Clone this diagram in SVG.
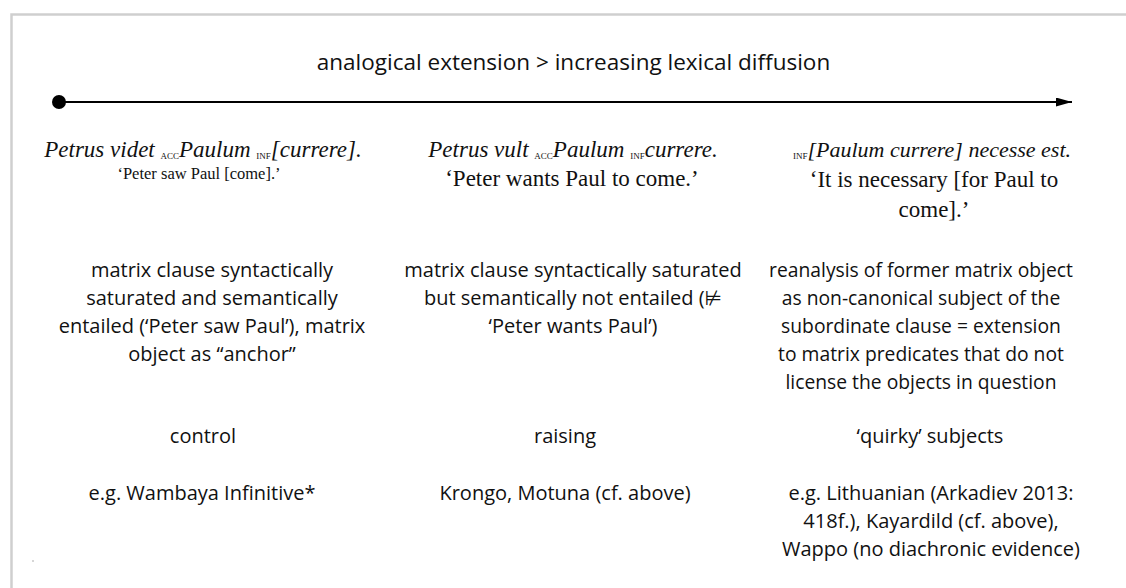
<svg xmlns="http://www.w3.org/2000/svg" width="1126" height="588" viewBox="0 0 1126 588">
<style>
.sans{font-family:"Open Sans","DejaVu Sans",sans-serif;font-size:20px;fill:#111;text-anchor:middle}
.title{font-size:22.5px}
.c3{font-size:19.3px}
.ser{font-family:"Liberation Serif","DejaVu Serif",serif;font-size:23px;fill:#111;text-anchor:middle}
.small{font-size:16.5px}
.it{font-style:italic}
.sc{font-style:normal;font-size:9px}
</style>
<defs>
<marker id="arr" viewBox="0 0 16 9" refX="16" refY="4.5" markerWidth="16" markerHeight="9" markerUnits="userSpaceOnUse" orient="auto">
<path d="M0,0 L16,4.5 L0,9 Z" fill="#000"/>
</marker>
</defs>
<rect width="1126" height="588" fill="#fff"/>
<path d="M11.5,588 V14.5 H1126" fill="none" stroke="#cfcfcf" stroke-width="2.5"/>
<rect x="32" y="560" width="2" height="2" fill="#d6d6d6"/>

<g id="connectors">
<line x1="59" y1="102" x2="1072" y2="102" stroke="#000" stroke-width="2" marker-end="url(#arr)"/>
<circle cx="59" cy="102" r="7" fill="#000"/>
</g>

<g id="title"><text class="sans title" x="573.5" y="70">analogical extension &gt; increasing lexical diffusion</text></g>

<g id="col1-example">
<text class="ser it" x="203" y="157">Petrus videt <tspan class="sc" dy="2">ACC</tspan><tspan dy="-2">Paulum </tspan><tspan class="sc" dy="2">INF</tspan><tspan dy="-2">[currere].</tspan></text>
<text class="ser small" x="199" y="179">‘Peter saw Paul [come].’</text>
</g>
<g id="col2-example">
<text class="ser it" x="573" y="157">Petrus vult <tspan class="sc" dy="2">ACC</tspan><tspan dy="-2">Paulum </tspan><tspan class="sc" dy="2">INF</tspan><tspan dy="-2">currere.</tspan></text>
<text class="ser" x="572" y="186">‘Peter wants Paul to come.’</text>
</g>
<g id="col3-example">
<text class="ser it" x="932" y="157" style="font-size:22px"><tspan class="sc" dy="2">INF</tspan><tspan dy="-2">[Paulum currere] necesse est.</tspan></text>
<text class="ser" x="934" y="187">‘It is necessary [for Paul to</text>
<text class="ser" x="934" y="217">come].’</text>
</g>

<g id="col1-desc">
<text class="sans" x="212" y="277">matrix clause syntactically</text>
<text class="sans" x="212" y="305">saturated and semantically</text>
<text class="sans" x="212" y="333">entailed (‘Peter saw Paul’), matrix</text>
<text class="sans" x="212" y="361">object as “anchor”</text>
</g>
<g id="col2-desc">
<text class="sans" x="573" y="277">matrix clause syntactically saturated</text>
<text class="sans" x="573" y="305">but semantically not entailed (⊭</text>
<text class="sans" x="573" y="333">‘Peter wants Paul’)</text>
</g>
<g id="col3-desc">
<text class="sans c3" x="921" y="277">reanalysis of former matrix object</text>
<text class="sans c3" x="921" y="305">as non-canonical subject of the</text>
<text class="sans c3" x="921" y="333">subordinate clause = extension</text>
<text class="sans c3" x="921" y="361">to matrix predicates that do not</text>
<text class="sans c3" x="921" y="389">license the objects in question</text>
</g>

<g id="col1-type"><text class="sans" x="203" y="443">control</text></g>
<g id="col2-type"><text class="sans" x="565" y="443">raising</text></g>
<g id="col3-type"><text class="sans" x="930" y="443">‘quirky’ subjects</text></g>

<g id="col1-examples"><text class="sans" x="202" y="500">e.g. Wambaya Infinitive*</text></g>
<g id="col2-examples"><text class="sans" x="565" y="500">Krongo, Motuna (cf. above)</text></g>
<g id="col3-examples">
<text class="sans" x="931" y="500">e.g. Lithuanian (Arkadiev 2013:</text>
<text class="sans" x="931" y="528">418f.), Kayardild (cf. above),</text>
<text class="sans" x="931" y="556">Wappo (no diachronic evidence)</text>
</g>
</svg>
